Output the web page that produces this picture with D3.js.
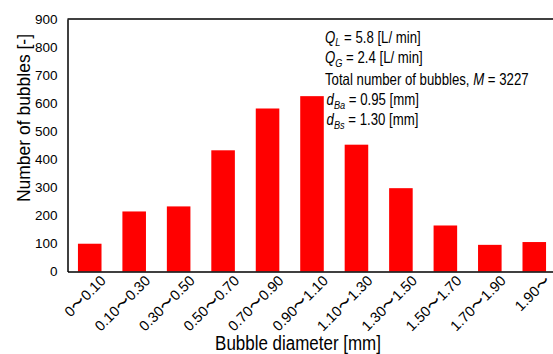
<!DOCTYPE html>
<html>
<head>
<meta charset="utf-8">
<script src="https://cdn.jsdelivr.net/npm/d3@7"></script>
<style>
  html, body { margin: 0; padding: 0; background: #fff; }
  svg { display: block; font-family: "Liberation Sans", Arial, sans-serif; }
</style>
</head>
<body>
<svg id="chart" width="553" height="354"></svg>
<script>
// Bubble size distribution
const categories = ["0〜0.10", "0.10〜0.30", "0.30〜0.50", "0.50〜0.70", "0.70〜0.90",
  "0.90〜1.10", "1.10〜1.30", "1.30〜1.50", "1.50〜1.70", "1.70〜1.90", "1.90〜"];
const counts = [99, 214, 232, 432, 581, 625, 452, 297, 164, 95, 105];
const yTicks = [0, 100, 200, 300, 400, 500, 600, 700, 800, 900];

const svg = d3.select("#chart");
const margin = { left: 67.5, top: 19, right: 556.5, bottom: 271.5 };

const x = d3.scaleBand()
  .domain(categories)
  .range([margin.left, margin.right])
  .paddingInner(0.47)
  .paddingOuter(0.235);

const y = d3.scaleLinear()
  .domain([0, 900])
  .range([margin.bottom, margin.top]);

// bars
svg.append("g")
  .selectAll("rect")
  .data(counts)
  .join("rect")
  .attr("x", (d, i) => x(categories[i]))
  .attr("width", x.bandwidth())
  .attr("y", d => y(d))
  .attr("height", d => y(0) - y(d))
  .attr("fill", "#ff0000");

// frame: top edge
svg.append("line")
  .attr("x1", margin.left).attr("x2", 553)
  .attr("y1", margin.top).attr("y2", margin.top)
  .attr("stroke", "#000").attr("stroke-width", 1.5);

// y axis
const yAxis = d3.axisLeft(y).tickValues(yTicks).tickSize(0).tickPadding(10);
const gy = svg.append("g")
  .attr("transform", `translate(${margin.left},0)`)
  .call(yAxis);
gy.select(".domain").attr("stroke", "#000").attr("stroke-width", 1.5);
gy.selectAll("text")
  .attr("font-size", 13.5)
  .attr("fill", "#000")
  .attr("font-family", "Liberation Sans, Arial, sans-serif");

// x axis
const xAxis = d3.axisBottom(x).tickSize(0).tickFormat(() => "");
const gx = svg.append("g")
  .attr("transform", `translate(0,${margin.bottom})`)
  .call(xAxis);
gx.select(".domain").attr("stroke", "#000").attr("stroke-width", 1.5);

// rotated category labels
svg.append("g")
  .selectAll("text")
  .data(categories)
  .join("text")
  .attr("transform", d => `translate(${x(d) + x.bandwidth() / 2 + 17},${margin.bottom + 10}) rotate(-45)`)
  .attr("text-anchor", "end")
  .attr("font-size", 14.5)
  .attr("fill", "#000")
  .text(d => d);

// axis titles (slightly condensed lettering)
svg.append("text")
  .attr("transform", "translate(30,118) rotate(-90) scale(0.92,1)")
  .attr("text-anchor", "middle")
  .attr("font-size", 19)
  .attr("fill", "#000")
  .text("Number of bubbles [-]");

svg.append("text")
  .attr("transform", "translate(298,350) scale(0.87,1)")
  .attr("text-anchor", "middle")
  .attr("font-size", 19.5)
  .attr("fill", "#000")
  .text("Bubble diameter [mm]");

// operating conditions
const notes = svg.append("g")
  .attr("transform", "translate(325,0) scale(0.8,1)")
  .attr("font-size", 16.5)
  .attr("fill", "#000");
const lineY = [43, 63.5, 85, 105.5, 125.5];
const subSize = 11.5;

const t1 = notes.append("text").attr("x", 0).attr("y", lineY[0]);
t1.append("tspan").attr("font-style", "italic").text("Q");
t1.append("tspan").attr("font-style", "italic").attr("font-size", subSize).attr("dy", 3.5).text("L");
t1.append("tspan").attr("dy", -3.5).text("  = 5.8 [L/ min]");

const t2 = notes.append("text").attr("x", 0).attr("y", lineY[1]);
t2.append("tspan").attr("font-style", "italic").text("Q");
t2.append("tspan").attr("font-style", "italic").attr("font-size", subSize).attr("dy", 3.5).text("G");
t2.append("tspan").attr("dy", -3.5).text(" = 2.4 [L/ min]");

const t3 = notes.append("text").attr("x", 0).attr("y", lineY[2]);
t3.append("tspan").text("Total number of bubbles, ");
t3.append("tspan").attr("font-style", "italic").text("M");
t3.append("tspan").text(" = 3227");

const t4 = notes.append("text").attr("x", 2).attr("y", lineY[3]);
t4.append("tspan").attr("font-style", "italic").text("d");
t4.append("tspan").attr("font-style", "italic").attr("font-size", subSize).attr("dy", 3.5).text("Ba");
t4.append("tspan").attr("dy", -3.5).text(" = 0.95 [mm]");

const t5 = notes.append("text").attr("x", 2).attr("y", lineY[4]);
t5.append("tspan").attr("font-style", "italic").text("d");
t5.append("tspan").attr("font-style", "italic").attr("font-size", subSize).attr("dy", 3.5).text("Bs");
t5.append("tspan").attr("dy", -3.5).text(" = 1.30 [mm]");
</script>
</body>
</html>
